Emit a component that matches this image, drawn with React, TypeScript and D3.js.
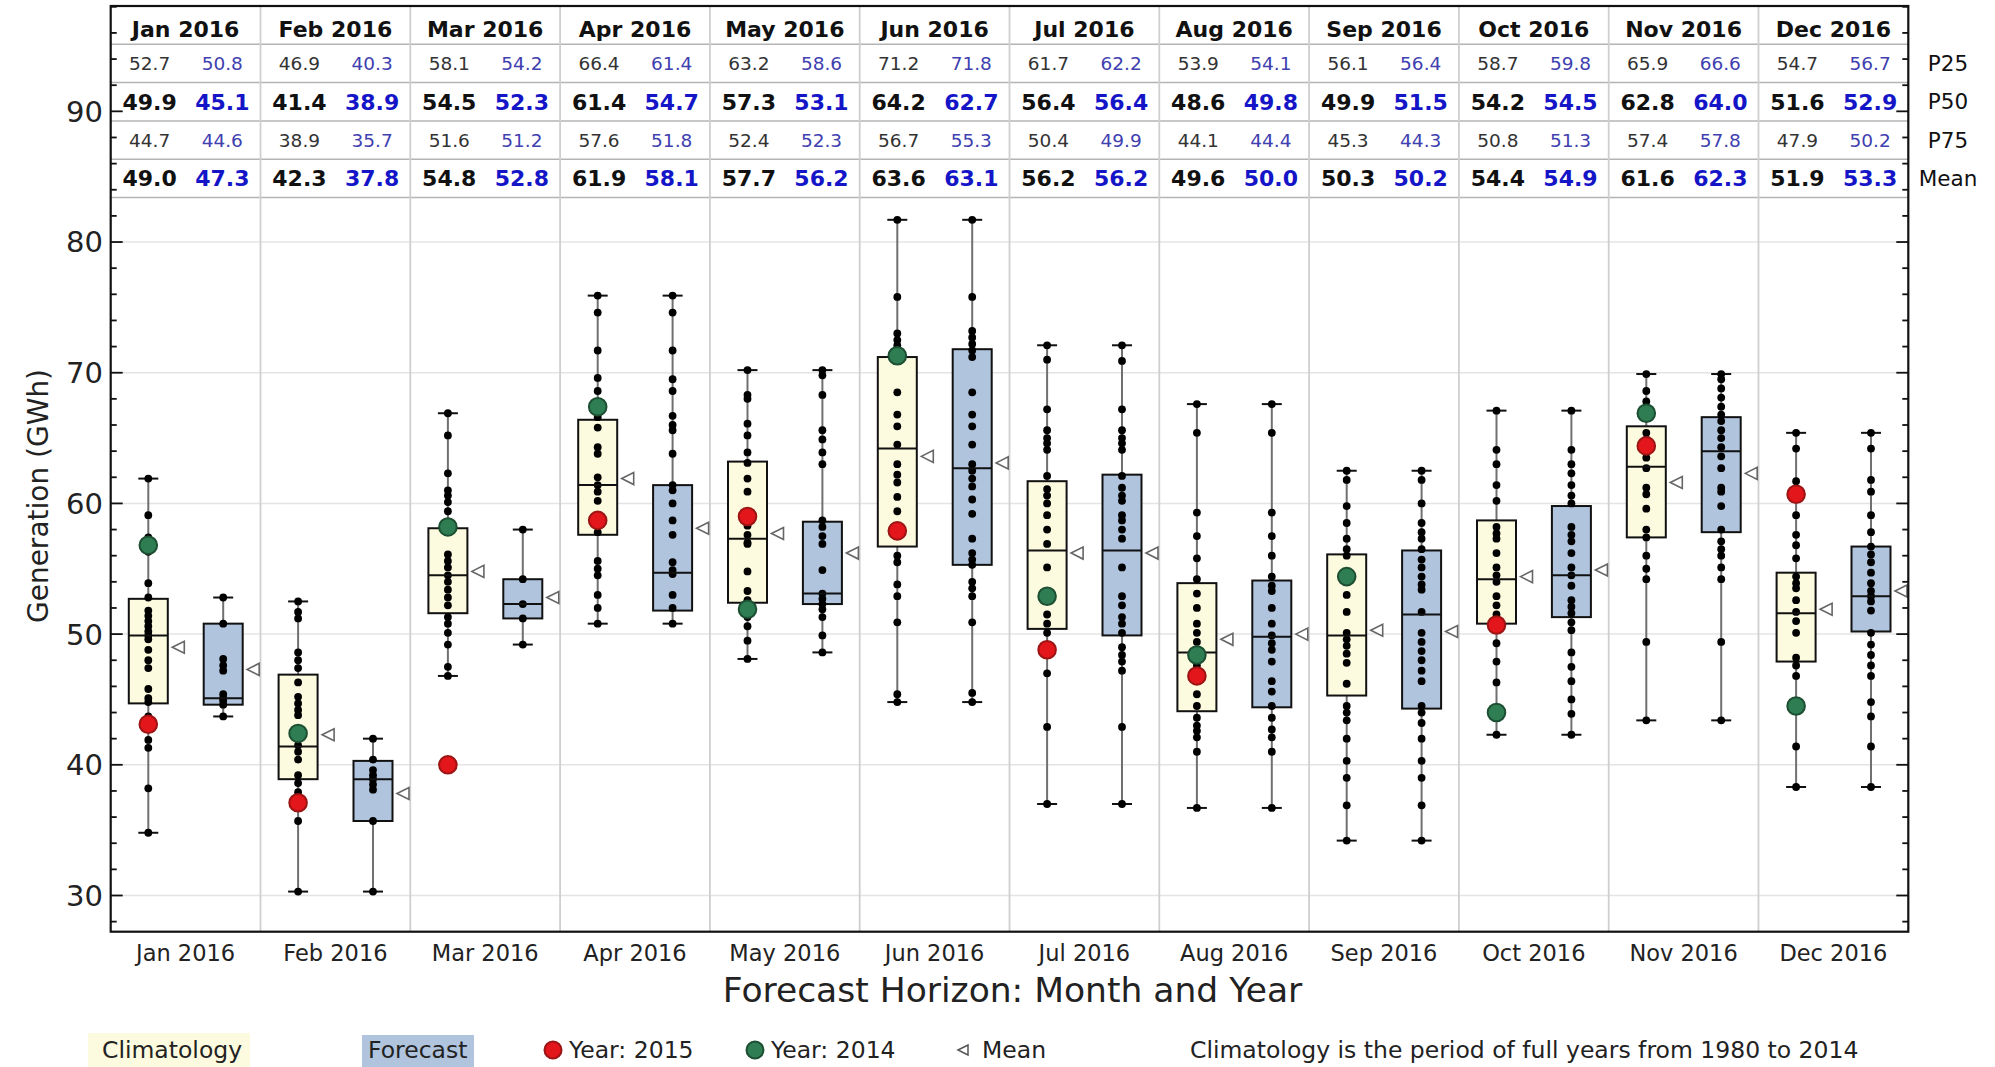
import React from 'react';
import * as d3 from 'd3';

const months = ['Jan 2016','Feb 2016','Mar 2016','Apr 2016','May 2016','Jun 2016','Jul 2016','Aug 2016','Sep 2016','Oct 2016','Nov 2016','Dec 2016'];

// Table rows (labels as printed in the chart)
const climP25 = [52.7, 46.9, 58.1, 66.4, 63.2, 71.2, 61.7, 53.9, 56.1, 58.7, 65.9, 54.7];
const fcP25 = [50.8, 40.3, 54.2, 61.4, 58.6, 71.8, 62.2, 54.1, 56.4, 59.8, 66.6, 56.7];
const climP50 = [49.9, 41.4, 54.5, 61.4, 57.3, 64.2, 56.4, 48.6, 49.9, 54.2, 62.8, 51.6];
const fcP50 = [45.1, 38.9, 52.3, 54.7, 53.1, 62.7, 56.4, 49.8, 51.5, 54.5, 64.0, 52.9];
const climP75 = [44.7, 38.9, 51.6, 57.6, 52.4, 56.7, 50.4, 44.1, 45.3, 50.8, 57.4, 47.9];
const fcP75 = [44.6, 35.7, 51.2, 51.8, 52.3, 55.3, 49.9, 44.4, 44.3, 51.3, 57.8, 50.2];
const climMean = [49.0, 42.3, 54.8, 61.9, 57.7, 63.6, 56.2, 49.6, 50.3, 54.4, 61.6, 51.9];
const fcMean = [47.3, 37.8, 52.8, 58.1, 56.2, 63.1, 56.2, 50.0, 50.2, 54.9, 62.3, 53.3];

const rowLabels = ['P25', 'P50', 'P75', 'Mean'];

const year2015: (number | null)[] = [43.1, 37.1, 40.0, 58.7, 59.0, 57.9, 48.8, 46.8, null, 50.7, 64.4, 60.7];
const year2014: number[] = [56.8, 42.4, 58.2, 67.4, 51.9, 71.3, 52.9, 48.4, 54.4, 44.0, 66.9, 44.5];

const climPoints: number[][] = [
  [61.9, 59.1, 57.4, 56.3, 53.9, 52.8, 51.8, 51.4, 51.0, 50.6, 50.2, 49.9, 49.6, 48.8, 48.0, 47.4, 45.8, 45.1, 44.8, 43.7, 41.9, 41.3, 38.2, 34.8],
  [52.5, 51.7, 51.2, 48.6, 48.0, 47.4, 46.3, 45.2, 44.7, 44.2, 43.8, 42.1, 41.5, 41.0, 40.4, 39.2, 38.6, 37.9, 35.7, 30.3],
  [66.9, 65.2, 62.3, 61.0, 60.6, 60.1, 59.4, 56.1, 55.6, 55.1, 54.5, 54.0, 53.4, 52.8, 52.2, 51.3, 50.8, 50.1, 49.2, 47.5, 46.8],
  [75.9, 74.6, 71.7, 69.6, 68.6, 66.6, 65.8, 64.3, 63.8, 62.0, 61.4, 60.9, 60.2, 57.8, 55.6, 55.0, 54.5, 53.0, 52.0, 50.8],
  [70.2, 68.3, 68.0, 66.1, 65.2, 63.9, 63.1, 61.9, 60.9, 58.3, 57.6, 57.0, 56.9, 54.8, 53.3, 52.6, 51.3, 50.6, 49.5, 48.1],
  [81.7, 75.8, 73.0, 72.5, 72.1, 68.5, 66.8, 65.9, 64.5, 63.0, 62.2, 61.6, 60.5, 59.4, 56.0, 55.5, 53.8, 52.9, 50.9, 45.4, 44.8],
  [72.1, 71.0, 67.2, 65.6, 65.0, 64.6, 64.1, 62.1, 61.1, 60.6, 60.0, 59.1, 58.0, 56.9, 55.1, 51.5, 50.8, 50.1, 47.0, 42.9, 37.0],
  [67.6, 65.4, 59.3, 57.5, 55.8, 54.2, 53.1, 52.0, 50.8, 50.1, 49.4, 47.6, 45.4, 44.5, 43.6, 43.0, 42.6, 42.1, 41.0, 36.7],
  [62.5, 61.8, 59.8, 58.5, 57.3, 56.5, 56.0, 53.0, 51.7, 50.1, 49.6, 49.1, 48.5, 47.8, 46.2, 44.5, 44.0, 43.4, 42.0, 40.3, 39.0, 36.9, 34.2],
  [67.1, 64.1, 63.0, 61.4, 60.2, 58.2, 57.7, 57.3, 56.2, 55.1, 54.5, 54.0, 52.9, 52.2, 51.5, 49.3, 47.9, 46.3, 42.3],
  [69.9, 68.6, 67.8, 65.4, 64.9, 63.5, 62.7, 61.2, 60.7, 59.6, 58.0, 57.4, 56.0, 55.0, 54.2, 49.4, 43.4],
  [65.4, 64.2, 61.7, 59.1, 57.6, 56.8, 55.8, 54.4, 53.9, 53.5, 52.6, 51.7, 51.0, 50.1, 48.2, 47.6, 46.8, 41.4, 38.3],
];

const fcPoints: number[][] = [
  [52.8, 50.8, 48.1, 47.6, 47.2, 45.4, 45.1, 44.9, 44.6, 43.7],
  [42.0, 40.4, 39.6, 39.2, 38.9, 38.5, 38.1, 35.7, 30.3],
  [58.0, 54.2, 52.3, 51.2, 49.2],
  [75.9, 74.6, 71.7, 69.5, 68.6, 66.7, 66.0, 65.6, 63.8, 61.4, 61.0, 60.0, 58.7, 57.6, 55.5, 54.9, 54.6, 53.0, 52.0, 50.8],
  [70.2, 69.8, 68.3, 65.6, 64.9, 63.9, 63.0, 58.7, 58.2, 57.5, 56.9, 54.9, 53.1, 52.7, 52.3, 51.9, 51.3, 49.9, 48.6],
  [81.7, 75.8, 73.2, 72.7, 72.2, 71.7, 71.2, 68.5, 66.8, 65.9, 64.5, 63.0, 62.5, 61.9, 61.3, 60.3, 59.2, 57.3, 56.2, 55.7, 55.3, 54.0, 53.5, 52.9, 50.9, 45.5, 44.8],
  [72.1, 70.9, 67.2, 65.6, 65.0, 64.6, 64.1, 62.1, 61.2, 60.6, 60.2, 59.1, 58.7, 58.0, 57.3, 55.1, 52.9, 52.2, 51.3, 50.8, 50.1, 49.0, 48.4, 47.9, 47.2, 42.9, 37.0],
  [67.6, 65.4, 59.3, 57.5, 56.0, 54.4, 53.7, 53.3, 52.0, 50.8, 49.9, 49.3, 48.8, 47.9, 46.4, 45.6, 44.5, 43.6, 42.7, 42.1, 41.0, 36.7],
  [62.5, 61.8, 60.0, 58.5, 57.8, 57.3, 56.5, 55.7, 55.1, 54.4, 53.8, 53.4, 51.7, 50.1, 49.4, 48.7, 48.0, 47.2, 46.4, 44.5, 44.0, 43.2, 42.0, 40.3, 39.0, 36.9, 34.2],
  [67.1, 64.1, 63.0, 62.3, 61.4, 60.6, 60.0, 58.2, 57.6, 57.1, 56.2, 55.1, 54.5, 53.7, 52.6, 52.1, 51.6, 50.9, 50.3, 48.6, 47.5, 46.4, 45.0, 43.9, 42.3],
  [69.9, 69.5, 68.8, 68.1, 67.4, 66.8, 66.3, 65.6, 65.0, 64.3, 63.6, 62.7, 61.2, 60.9, 59.8, 58.0, 57.1, 56.5, 56.0, 55.1, 54.2, 49.4, 43.4],
  [65.4, 64.2, 61.8, 60.9, 59.1, 57.8, 56.7, 56.1, 55.5, 54.7, 53.9, 53.3, 52.9, 52.5, 51.8, 50.1, 49.2, 48.4, 47.6, 46.8, 44.8, 43.7, 41.4, 38.3],
];

const yTicks = [30, 40, 50, 60, 70, 80, 90];
const gridTicks = [30, 40, 50, 60, 70, 80];

const FONT = '"DejaVu Sans", Verdana, sans-serif';
const W = 1995, H = 1067;
const L = 110.7, R = 1908.3, T = 6, B = 931.7;
const ROW_H = 38.3;
const TABLE_B = T + ROW_H * 5;

const CLIM_FILL = '#fdfbdf';
const FC_FILL = '#b0c4de';

export default function App() {
  const x = d3.scaleBand<string>().domain(months).range([L, R]).padding(0);
  const bw = x.bandwidth();
  const y = d3.scaleLinear().domain([27.23, 98.06]).range([B, T]);
  const minorTicks = d3.range(28, 98.1, 2);
  const boxW = 39;
  const capW = 20;

  const tri = (cx: number, cy: number, s: number) =>
    `M${cx - s / 2},${cy} L${cx + s / 2},${cy - s / 2} L${cx + s / 2},${cy + s / 2} Z`;

  const renderBox = (m: string, i: number, kind: 'clim' | 'fc') => {
    const cx = (x(m) as number) + bw * (kind === 'clim' ? 0.251 : 0.751);
    const pts = kind === 'clim' ? climPoints[i] : fcPoints[i];
    const hi = kind === 'clim' ? climP25[i] : fcP25[i];
    const med = kind === 'clim' ? climP50[i] : fcP50[i];
    const lo = kind === 'clim' ? climP75[i] : fcP75[i];
    const mean = kind === 'clim' ? climMean[i] : fcMean[i];
    const [mn, mx] = d3.extent(pts) as [number, number];
    return (
      <g key={kind + i}>
        <line x1={cx} x2={cx} y1={y(mx)} y2={y(mn)} stroke="#707070" strokeWidth={2} />
        <line x1={cx - capW / 2} x2={cx + capW / 2} y1={y(mx)} y2={y(mx)} stroke="#111" strokeWidth={2} />
        <line x1={cx - capW / 2} x2={cx + capW / 2} y1={y(mn)} y2={y(mn)} stroke="#111" strokeWidth={2} />
        <rect x={cx - boxW / 2} y={y(hi)} width={boxW} height={y(lo) - y(hi)}
          fill={kind === 'clim' ? CLIM_FILL : FC_FILL} stroke="#111" strokeWidth={2} />
        {pts.map((v, k) => (
          <circle key={k} cx={cx} cy={y(v)} r={3.9} fill="#000" />
        ))}
        <line x1={cx - boxW / 2} x2={cx + boxW / 2} y1={y(med)} y2={y(med)} stroke="#111" strokeWidth={2} />
        {kind === 'clim' && year2015[i] != null && (
          <circle cx={cx} cy={y(year2015[i] as number)} r={8.8} fill="#e3161b" stroke="#9c1414" strokeWidth={2} />
        )}
        {kind === 'clim' && (
          <circle cx={cx} cy={y(year2014[i])} r={8.8} fill="#2f7d52" stroke="#1d4f33" strokeWidth={2} />
        )}
        <path d={tri(cx + 30, y(mean), 12)} fill="#fff" stroke="#666" strokeWidth={1.6} />
      </g>
    );
  };

  const rowCenters = d3.range(5).map((r) => T + ROW_H * r + ROW_H / 2 + (r === 0 ? 3.5 : 0));
  const tableRows: { clim: number[]; fc: number[]; bold: boolean }[] = [
    { clim: climP25, fc: fcP25, bold: false },
    { clim: climP50, fc: fcP50, bold: true },
    { clim: climP75, fc: fcP75, bold: false },
    { clim: climMean, fc: fcMean, bold: true },
  ];

  return (
    <svg width={W} height={H} style={{ position: 'absolute', left: 0, top: 0, display: 'block', background: '#fff' }}
      fontFamily={FONT}>
      <rect x={0} y={0} width={W} height={H} fill="#fff" />
      {/* horizontal gridlines */}
      {gridTicks.map((t) => (
        <line key={'g' + t} x1={L} x2={R} y1={y(t)} y2={y(t)} stroke="#e4e4e4" strokeWidth={1.5} />
      ))}
      {/* table background */}
      <rect x={L} y={T} width={R - L} height={TABLE_B - T} fill="#fff" />
      {/* table row lines */}
      {d3.range(1, 6).map((r) => (
        <line key={'rl' + r} x1={L} x2={R} y1={T + ROW_H * r} y2={T + ROW_H * r} stroke="#b4b4b4" strokeWidth={1.5} />
      ))}
      {/* vertical band lines */}
      {months.slice(1).map((m) => (
        <line key={'v' + m} x1={x(m)} x2={x(m)} y1={T} y2={B} stroke="#cfcfcf" strokeWidth={1.8} />
      ))}
      {/* table text */}
      {months.map((m) => (
        <text key={'h' + m} x={(x(m) as number) + bw / 2} y={rowCenters[0]} dy="0.36em" textAnchor="middle"
          fontSize={22} fontWeight="bold" fill="#111">{m}</text>
      ))}
      {tableRows.map((row, r) =>
        months.map((m, i) => (
          <g key={'t' + r + '-' + i}>
            <text x={(x(m) as number) + bw * 0.26} y={rowCenters[r + 1]} dy="0.36em" textAnchor="middle"
              fontSize={row.bold ? 22 : 18.5} fontWeight={row.bold ? 'bold' : 'normal'}
              fill={row.bold ? '#111' : '#333'}>{row.clim[i].toFixed(1)}</text>
            <text x={(x(m) as number) + bw * 0.745} y={rowCenters[r + 1]} dy="0.36em" textAnchor="middle"
              fontSize={row.bold ? 22 : 18.5} fontWeight={row.bold ? 'bold' : 'normal'}
              fill={row.bold ? '#1515c8' : '#4040b0'}>{row.fc[i].toFixed(1)}</text>
          </g>
        ))
      )}
      {rowLabels.map((lab, r) => (
        <text key={'rlab' + lab} x={1948} y={rowCenters[r + 1]} dy="0.36em" textAnchor="middle" fontSize={21.5} fill="#111">{lab}</text>
      ))}
      {/* boxes */}
      {months.map((m, i) => (
        <g key={'b' + m}>
          {renderBox(m, i, 'clim')}
          {renderBox(m, i, 'fc')}
        </g>
      ))}
      {/* frame */}
      <rect x={L} y={T} width={R - L} height={B - T} fill="none" stroke="#111" strokeWidth={2.2} />
      {/* y ticks */}
      {minorTicks.map((t) => {
        const major = t % 10 === 0;
        const len = major ? 12 : 6;
        return (
          <g key={'yt' + t}>
            <line x1={L} x2={L + len} y1={y(t)} y2={y(t)} stroke="#111" strokeWidth={1.8} />
            <line x1={R} x2={R - len} y1={y(t)} y2={y(t)} stroke="#111" strokeWidth={1.8} />
          </g>
        );
      })}
      {yTicks.map((t) => (
        <text key={'yl' + t} x={103} y={y(t)} dy="0.36em" textAnchor="end" fontSize={29} fill="#222">{t}</text>
      ))}
      <text transform={`translate(38,496) rotate(-90)`} textAnchor="middle" dy="0.36em" fontSize={28} fill="#222">Generation (GWh)</text>
      {/* x labels */}
      {months.map((m) => (
        <text key={'xl' + m} x={(x(m) as number) + bw / 2} y={961} textAnchor="middle" fontSize={22.5} fill="#222">{m}</text>
      ))}
      <text x={(L + R) / 2 + 3} y={1002} textAnchor="middle" fontSize={34.5} fill="#222">Forecast Horizon: Month and Year</text>
      {/* legend */}
      <rect x={88} y={1033} width={162} height={34} fill={CLIM_FILL} />
      <text x={102} y={1058} fontSize={23.5} fill="#222">Climatology</text>
      <rect x={362} y={1035} width={112} height={32} fill={FC_FILL} />
      <text x={368} y={1058} fontSize={23.5} fill="#222">Forecast</text>
      <circle cx={553} cy={1050} r={8.5} fill="#e3161b" stroke="#9c1414" strokeWidth={2} />
      <text x={569} y={1058} fontSize={23.5} fill="#222">Year: 2015</text>
      <circle cx={755} cy={1050} r={8.5} fill="#2f7d52" stroke="#1d4f33" strokeWidth={2} />
      <text x={771} y={1058} fontSize={23.5} fill="#222">Year: 2014</text>
      <path d={tri(963, 1050, 10)} fill="#fff" stroke="#555" strokeWidth={1.5} />
      <text x={982} y={1058} fontSize={23.5} fill="#222">Mean</text>
      <text x={1190} y={1058} fontSize={23.5} fill="#222">Climatology is the period of full years from 1980 to 2014</text>
    </svg>
  );
}
